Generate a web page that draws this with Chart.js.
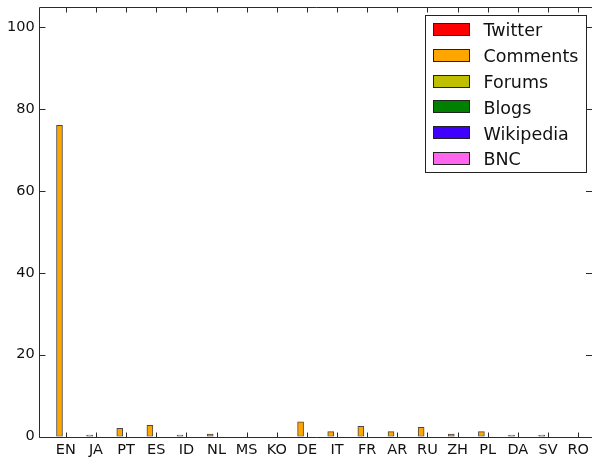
<!DOCTYPE html>
<html>
<head>
<meta charset="utf-8">
<script src="https://cdn.jsdelivr.net/npm/chart.js@4/dist/chart.umd.min.js"></script>
<style>
  html, body { margin: 0; padding: 0; background: #fff; overflow: hidden; }
  #wrap { width: 592px; height: 457px; }
</style>
</head>
<body>
<div id="wrap"><canvas id="c" width="592" height="457"></canvas></div>
<script>
// Languages along the x axis
const languages = ['EN', 'JA', 'PT', 'ES', 'ID', 'NL', 'MS', 'KO', 'DE', 'IT', 'FR', 'AR', 'RU', 'ZH', 'PL', 'DA', 'SV', 'RO'];

// Source names and their colours (legend order)
const sources = ['Twitter', 'Comments', 'Forums', 'Blogs', 'Wikipedia', 'BNC'];
const sourceColors = ['#ff0000', '#ffa500', '#bfbf00', '#008000', '#4000ff', '#ff66ee'];

// Share of each language (%) in the Comments corpus
const commentsShare = [76, 0.35, 2.0, 2.7, 0.35, 0.6, 0, 0, 3.6, 1.2, 2.5, 1.2, 2.25, 0.6, 1.2, 0.35, 0.35, 0];

// Y axis tick values
const yTicks = [0, 20, 40, 60, 80, 100];

const FONT = 'DejaVu Sans';
const barShift = -0.21;   // bar sits left of its category tick
const tickLen = 5;

// Inward ticks, frame (the right spine runs along the canvas edge) and legend box
const framePlugin = {
  id: 'frame',
  afterDraw(chart) {
    const { ctx, chartArea: a, scales } = chart;
    const x = scales.x, y = scales.y;
    const L = Math.round(a.left) + 0.5, T = Math.round(a.top) + 0.5;
    const B = Math.round(a.bottom) + 0.5, R = a.right + 2;
    ctx.save();
    ctx.strokeStyle = '#2a2a2a';
    ctx.lineWidth = 1;
    ctx.beginPath();
    ctx.moveTo(R, T); ctx.lineTo(L, T); ctx.lineTo(L, B); ctx.lineTo(R, B);
    languages.forEach((_, i) => {
      const px = Math.round(x.getPixelForValue(i)) + 0.5;
      ctx.moveTo(px, B); ctx.lineTo(px, B - tickLen);
      ctx.moveTo(px, T); ctx.lineTo(px, T + tickLen);
    });
    yTicks.forEach(v => {
      const py = Math.round(y.getPixelForValue(v)) + 0.5;
      ctx.moveTo(L, py); ctx.lineTo(L + tickLen + 1, py);
      ctx.moveTo(a.right, py); ctx.lineTo(a.right - tickLen - 1, py);
    });
    ctx.stroke();

    // legend
    const bx = 425.5, by = 15.5, bw = 161, bh = 157;
    ctx.fillStyle = '#fff';
    ctx.fillRect(bx, by, bw, bh);
    ctx.strokeStyle = '#222';
    ctx.strokeRect(bx, by, bw, bh);
    ctx.font = '17.5px "' + FONT + '"';
    ctx.textBaseline = 'alphabetic';
    ctx.textAlign = 'left';
    sources.forEach((name, i) => {
      const cy = 29.3 + i * 25.9;
      ctx.fillStyle = sourceColors[i];
      ctx.fillRect(433, Math.round(cy - 6.5), 37, 13);
      ctx.strokeStyle = '#222';
      ctx.strokeRect(433.5, Math.round(cy - 6.5) + 0.5, 36, 12);
      ctx.fillStyle = '#111';
      ctx.fillText(name, 483.5, cy + 6.6);
    });
    ctx.restore();
  }
};

const datasets = sources.map((name, i) => ({
  label: name,
  data: name === 'Comments'
    ? commentsShare.map((v, k) => ({ x: k + barShift, y: v }))
    : [],
  backgroundColor: sourceColors[i],
  borderColor: 'rgba(40,40,40,0.85)',
  borderWidth: 1,
  borderSkipped: false,
  barThickness: 6,
  grouped: false
}));

new Chart(document.getElementById('c'), {
  type: 'bar',
  data: { datasets },
  options: {
    responsive: false,
    animation: false,
    layout: { padding: { top: 6.7, right: 0, left: 0, bottom: 0 } },
    plugins: { legend: { display: false }, tooltip: { enabled: false } },
    scales: {
      x: {
        type: 'linear',
        offset: false,
        min: -0.9,
        max: 17.46,
        grid: { display: false, drawTicks: false, offset: false },
        border: { display: false },
        afterBuildTicks(scale) {
          scale.ticks = languages.map((_, i) => ({ value: i }));
        },
        afterFit(scale) {
          scale.height = 20.5;
          scale.paddingLeft = 0; scale.paddingRight = 0;
        },
        ticks: {
          autoSkip: false,
          maxRotation: 0,
          padding: 5,
          color: '#111',
          font: { family: FONT, size: 14.5 },
          callback: v => languages[v]
        }
      },
      y: {
        min: 0,
        max: 105,
        grid: { display: false, drawTicks: false },
        border: { display: false },
        afterBuildTicks(scale) {
          scale.ticks = yTicks.map(v => ({ value: v }));
        },
        afterFit(scale) {
          scale.width = 38.7;
          scale.paddingTop = 0; scale.paddingBottom = 0;
        },
        ticks: {
          padding: 4,
          color: '#111',
          font: { family: FONT, size: 14.5 }
        }
      }
    }
  },
  plugins: [framePlugin]
});
</script>
</body>
</html>
